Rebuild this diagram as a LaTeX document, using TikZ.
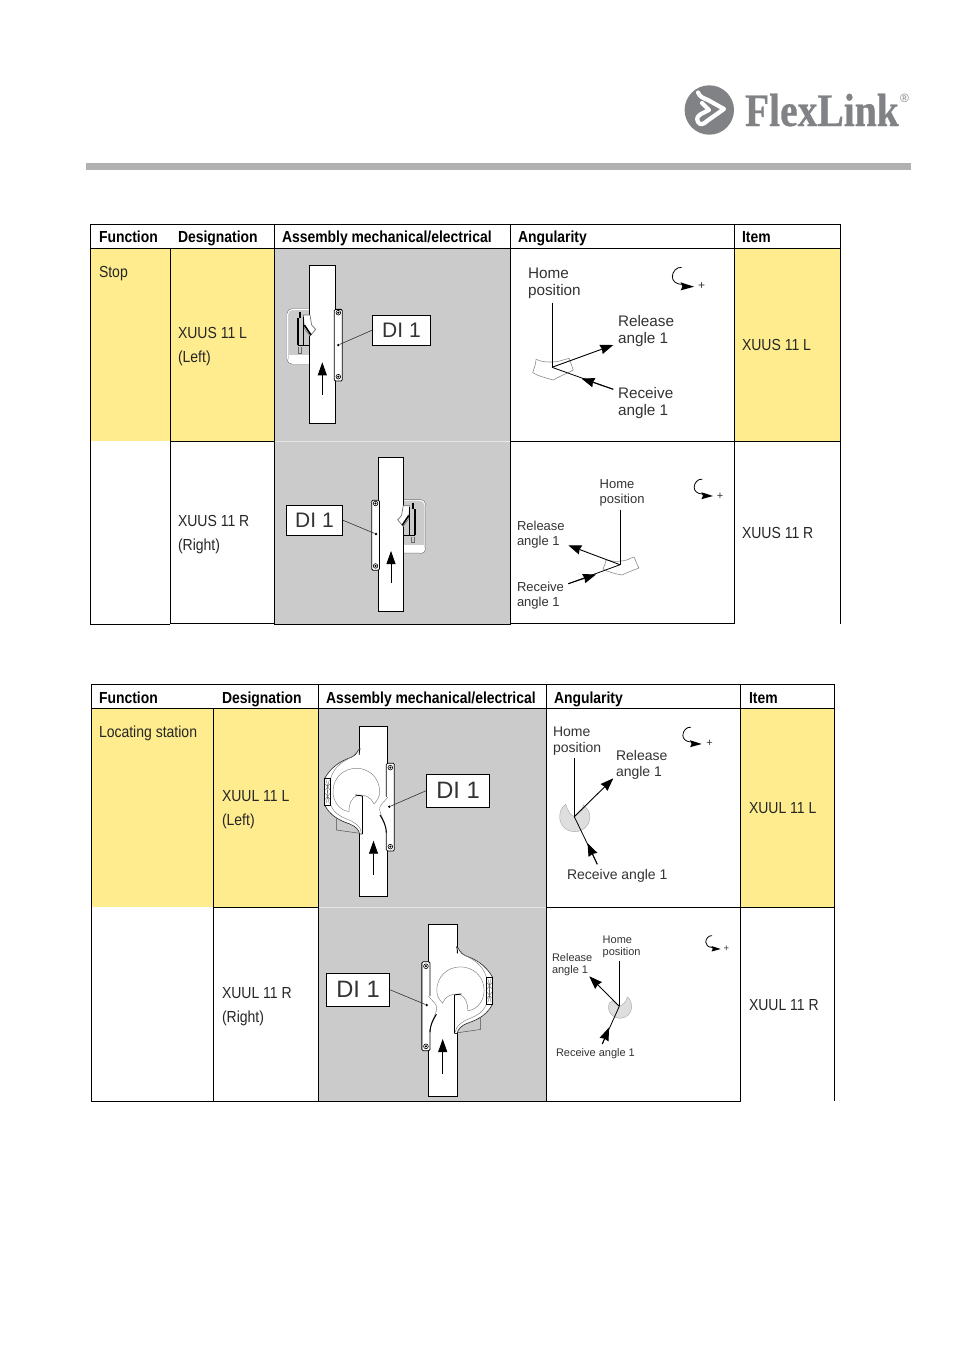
\documentclass[tikz,border=0pt]{standalone}
\usepackage{fontspec}
\usetikzlibrary{arrows.meta}
\setmainfont{Liberation Sans}
\newfontfamily\hv{Liberation Sans}
\newfontfamily\nreg[FakeStretch=.875]{Liberation Sans}
\newfontfamily\nbold[FakeStretch=.87]{Liberation Sans Bold}
\newfontfamily\logofont[FakeStretch=.85,FakeBold=.6]{Liberation Serif Bold}
\definecolor{yel}{HTML}{FEEC8E}
\definecolor{gbg}{HTML}{CBCBCB}
\definecolor{bar}{HTML}{B1B1B1}
\definecolor{logo}{HTML}{808285}
\definecolor{ink}{HTML}{333333}
\definecolor{disc}{HTML}{DEDEDE}
\tikzset{
  x=1pt,y=-1pt,
  rule/.style={draw=black,line width=1pt},
  txt/.style={anchor=base west,inner sep=0pt,outer sep=0pt,text=ink},
  head/.style={txt,text=black,font=\nbold\fontsize{16}{18}\selectfont},
  cell/.style={txt,text=black!85,font=\nreg\fontsize{16}{18}\selectfont},
  lblA/.style={txt,font=\hv\fontsize{15.3}{17.2}\selectfont},
  lblA2/.style={txt,font=\hv\fontsize{14}{16}\selectfont},
  lblB/.style={txt,font=\hv\fontsize{13}{15}\selectfont},
  lblC/.style={txt,font=\hv\fontsize{11}{12.3}\selectfont},
  plus/.style={txt,anchor=center},
  dibox/.style={draw=black,line width=.8pt,fill=white,inner sep=0pt,text=ink},
  dione/.style={dibox,minimum width=58.5pt,minimum height=30pt,font=\hv\fontsize{21}{24}\selectfont},
  ditwo/.style={dibox,minimum width=63.5pt,minimum height=33pt,font=\hv\fontsize{23.7}{28}\selectfont},
  leader/.style={draw=ink,line width=.6pt},
  pin/.style={circle,fill=black,inner sep=0pt,minimum size=2.6pt},
  axis/.style={draw=black,line width=.8pt},
  tipA/.style={-{Stealth[length=13pt,width=9.5pt,inset=1pt]},draw=black,line width=.9pt},
  seg/.style={draw=black!45,line width=.6pt},
  dsc/.style={draw=black!35,fill=disc,line width=.4pt},
  flow/.style={-{Stealth[length=13pt,width=9pt,inset=0pt]},draw=black,line width=.8pt},
  conv/.style={draw=black,line width=.9pt,fill=white},
  brk/.style={draw=black,line width=.8pt,fill=white,rounded corners=1.2pt},
  thinline/.style={draw=black!50,line width=.45pt},
  seam/.style={draw=black!10,line width=.8pt},
}
\newcommand\lines[1]{\begin{tabular}[t]{@{}l@{}}#1\end{tabular}}
\newcommand\screw[2]{\draw[black,line width=.6pt,fill=white] (#1,#2) circle[radius=7pt];\fill[black] (#1,#2) circle[radius=3.5pt];}
% stop unit: local units are 1/3 pixel
\newcommand\stopunit[4]{%
\begin{scope}[shift={(#1,#2)},xscale=#3,yscale=#4]\begin{scope}[shift={(-142.5,-47)}]
  \draw[black!60,line width=.4pt,rounded corners=5pt] (103,176)--(36,176)--(36,342)--(103,342);
  \draw[white,line width=.9pt,rounded corners=5pt] (103,178)--(38,178)--(38,340)--(103,340);
  \fill[white] (41,315) rectangle (103,338);
  \draw[black!60,line width=.35pt] (70,290)--(70,308)--(80,308)--(80,290);
  \draw[conv] (103,47) rectangle (182,520);
  \draw[brk] (178,178) rectangle (202,393);
  \screw{190}{188}\screw{190}{380}
  \draw[black!55,line width=.7pt,fill=white] (85,195)--(105,195)--(110,225)--(122,238)--(105,258)--(88,235)--cycle;
  \draw[black,line width=1.9pt] (68,205)--(68,285);
  \draw[black,line width=1.2pt] (75,185)--(75,205);
  \draw[black,line width=1.5pt] (85,200)--(85,285);
  \draw[black,line width=.8pt] (68,285)--(103,285);
  \draw[black,line width=1.6pt] (88,225)--(108,255);
\end{scope}\end{scope}}
% locating unit
\newcommand\locunit[4]{%
\begin{scope}[shift={(#1,#2)},xscale=#3,yscale=#4]\begin{scope}[shift={(-166.5,-49)}]
  \draw[black!70,line width=.45pt] (55,325)--(55,360)--(125,370);
  \draw[conv] (124,49) rectangle (209,559);
  \draw[brk] (205,160) rectangle (229,423);
  \screw{217}{173}\screw{217}{410}
  \fill[white] (195,262) rectangle (212,362);
  \draw[thinline] (209,262) .. controls (195,280) and (183,285) .. (185,300) .. controls (188,320) and (203,335) .. (205,365);
  \draw[black,line width=1pt] (186,315) .. controls (195,330) and (204,345) .. (205,368);
  \path[fill=white] (124,130) -- (126,115) .. controls (118,120) and (118,135) .. (100,142) .. controls (70,152) and (40,170) .. (20,205) -- (20,285) .. controls (35,315) and (60,330) .. (95,342) .. controls (115,350) and (122,360) .. (125,372) -- (133,372) -- (133,130) -- cycle;
  \draw[black!85,line width=.6pt] (126,115) .. controls (118,120) and (118,135) .. (100,142) .. controls (70,152) and (40,170) .. (20,205);
  \draw[black!85,line width=.6pt] (20,285) .. controls (35,315) and (60,330) .. (95,342) .. controls (115,350) and (122,360) .. (125,372) -- (133,372);
  \draw[black,line width=.8pt] (126,115) .. controls (125,125) and (122,130) .. (124,135);
  \draw[thinline] (114,128) .. controls (105,148) and (55,150) .. (38,205);
  \draw[thinline] (38,285) .. controls (50,315) and (75,322) .. (100,333) .. controls (115,342) and (128,350) .. (130,368);
  \draw[black,line width=.7pt,fill=white] (20,205) rectangle (38,285);
  \draw[black!60,line width=.35pt] (24,210) .. controls (32,235) and (32,255) .. (24,280) (34,210) .. controls (26,235) and (26,255) .. (34,280) (22,222) -- (36,240) (36,222) -- (22,240) (22,250) -- (36,268) (36,250) -- (22,268);
  \draw[thinline] (93,305) .. controls (60,300) and (45,270) .. (45,245) .. controls (45,200) and (80,175) .. (115,175) .. controls (155,175) and (185,205) .. (185,245) .. controls (185,260) and (178,272) .. (168,282) .. controls (160,262) and (140,252) .. (118,256) .. controls (100,262) and (92,285) .. (93,305);
  \draw[black,line width=1.1pt] (133,258)--(133,372);
  \draw[black,line width=.9pt] (112,255)--(133,258);
\end{scope}\end{scope}}
% rotation symbol, tip at #1,#2, scale #3
\newcommand\rotsym[3]{%
\begin{scope}[shift={(#1,#2)},scale=#3]
  \draw[black,line width=.8pt] (-37,-58) .. controls (-52,-60) and (-65,-45) .. (-65,-30) .. controls (-65,-18) and (-55,-8) .. (-38,-7);
  \fill[black] (0,0) -- (-40,-13) -- (-35,0) -- (-40,11) -- cycle;
\end{scope}}
\begin{document}
\begin{tikzpicture}
\useasboundingbox (0,0) rectangle (954,1350);
\fill[white] (0,0) rectangle (954,1350);
% ------ logo
\fill[logo] (709.3,110) circle[radius=24.7pt];
\draw[white,line width=4.2pt,line join=round,line cap=round] (698,92.5) .. controls (700,97) and (703,98) .. (708,100) -- (724,109) -- (707,121) .. controls (703,125) and (700,125) .. (698,122) .. controls (696,118) and (698,116) .. (701,114) -- (709,110) -- (702,103);
\node[txt,text=logo,font=\logofont\fontsize{46.5}{50}\selectfont] (logotext) at (745,126) {FlexLink};
\node[txt,text=logo,font=\hv\fontsize{12}{13}\selectfont,anchor=center] (logor) at (904.5,98.5) {®};
\fill[bar] (86,163) rectangle (911,170);
% ------ table 1 fills
\fill[yel] (91,249) rectangle (274,441);
\fill[yel] (735,249) rectangle (840,441);
\fill[gbg] (275,249) rectangle (510,624);
% table 1 rules
\draw[seam] (275,441.5) -- (510,441.5);
\draw[rule] (90.5,224.5) -- (840.5,224.5);
\draw[rule] (90.5,248.5) -- (840.5,248.5);
\draw[rule] (90.5,224) -- (90.5,625);
\draw[rule] (170.5,249) -- (170.5,624);
\draw[rule] (274.5,224) -- (274.5,624);
\draw[rule] (510.5,224) -- (510.5,624);
\draw[rule] (734.5,224) -- (734.5,624);
\draw[rule] (840.5,224) -- (840.5,624);
\draw[rule] (170,441.5) -- (274,441.5);
\draw[rule] (510,441.5) -- (840,441.5);
\draw[rule] (90,624.5) -- (170,624.5);
\draw[rule] (170,623.5) -- (274,623.5);
\draw[rule] (274,624.5) -- (511,624.5);
\draw[rule] (510,623.5) -- (735,623.5);
% ------ table 2 fills
\fill[yel] (92,709) rectangle (318,907);
\fill[yel] (741,709) rectangle (834,907);
\fill[gbg] (319,709) rectangle (546,1101);
% table 2 rules
\draw[seam] (319,907.5) -- (546,907.5);
\draw[rule] (91.5,684.5) -- (834.5,684.5);
\draw[rule] (91.5,708.5) -- (834.5,708.5);
\draw[rule] (91.5,684) -- (91.5,1102);
\draw[rule] (213.5,709) -- (213.5,1102);
\draw[rule] (318.5,684) -- (318.5,1102);
\draw[rule] (546.5,684) -- (546.5,1102);
\draw[rule] (740.5,684) -- (740.5,1102);
\draw[rule] (834.5,684) -- (834.5,1101);
\draw[rule] (213,907.5) -- (318,907.5);
\draw[rule] (546,907.5) -- (834,907.5);
\draw[rule] (91,1101.5) -- (741,1101.5);
% ------ table text
\node[head] (h1a) at (99,242) {Function};
\node[head] (h1b) at (178,242) {Designation};
\node[head] (h1c) at (282,242) {Assembly mechanical/electrical};
\node[head] (h1d) at (518,242) {Angularity};
\node[head] (h1e) at (742,242) {Item};
\node[cell] (c1a) at (99,277) {Stop};
\node[cell] (c1b) at (178,338) {XUUS 11 L};
\node[cell] (c1c) at (178,362) {(Left)};
\node[cell] (c1d) at (178,526) {XUUS 11 R};
\node[cell] (c1e) at (178,550) {(Right)};
\node[cell] (c1f) at (742,350) {XUUS 11 L};
\node[cell] (c1g) at (742,538) {XUUS 11 R};
\node[head] (h2a) at (99,703) {Function};
\node[head] (h2b) at (222,703) {Designation};
\node[head] (h2c) at (326,703) {Assembly mechanical/electrical};
\node[head] (h2d) at (554,703) {Angularity};
\node[head] (h2e) at (749,703) {Item};
\node[cell] (c2a) at (99,737) {Locating station};
\node[cell] (c2b) at (222,801) {XUUL 11 L};
\node[cell] (c2c) at (222,825) {(Left)};
\node[cell] (c2d) at (222,998) {XUUL 11 R};
\node[cell] (c2e) at (222,1022) {(Right)};
\node[cell] (c2f) at (749,813) {XUUL 11 L};
\node[cell] (c2g) at (749,1010) {XUUL 11 R};
% ------ assemblies
\stopunit{322.5}{265.7}{.3333}{.3333}
\coordinate (f1s) at (322.3,395); \coordinate (f1e) at (322.3,362.3);
\draw[flow] (f1s) -- (f1e);
\node[dione] (di1) at (401.5,330.3) {DI 1};
\node[pin] (p1) at (338.3,345) {};
\draw[leader] (di1.west) -- (p1);

\stopunit{391}{457.7}{-.325}{.325}
\coordinate (f2s) at (391,582.7); \coordinate (f2e) at (391,551);
\draw[flow] (f2s) -- (f2e);
\node[dione,minimum width=56.5pt] (di2) at (314.5,520.3) {DI 1};
\node[pin] (p2) at (376,534) {};
\draw[leader] (di2.east) -- (p2);

\locunit{373.5}{726.3}{.3333}{.3333}
\coordinate (f3s) at (373.5,875); \coordinate (f3e) at (373.5,840.7);
\draw[flow] (f3s) -- (f3e);
\node[ditwo] (di3) at (458,790.8) {DI 1};
\node[pin] (p3) at (389.3,806.7) {};
\draw[leader] (di3.west) -- (p3);

\locunit{443}{924.3}{-.338}{.338}
\coordinate (f4s) at (442.7,1073.7); \coordinate (f4e) at (442.7,1039);
\draw[flow] (f4s) -- (f4e);
\node[ditwo] (di4) at (358,989.8) {DI 1};
\node[pin] (p4) at (426.7,1005) {};
\draw[leader] (di4.east) -- (p4);
% ------ angle 1
\draw[seg] (536,359.3) .. controls (542,362) and (546,362) .. (552,362) .. controls (558,362) and (563,360) .. (569,358.3) .. controls (571,363) and (572,367) .. (573.3,370) .. controls (568,373) and (560,376) .. (553.3,380) .. controls (546,378) and (538,376) .. (532.7,372.7) .. controls (534,368) and (536,364) .. (536,359.3);
\coordinate (a1h) at (552,367.3); \coordinate (a1t) at (552,302.7);
\coordinate (a1r) at (613.3,345); \coordinate (a1c) at (613.3,389.3); \coordinate (a1m) at (581.5,378.5);
\draw[axis] (a1t) -- (a1h);
\draw[tipA] (a1h) -- (a1r);
\draw[axis] (a1c) -- (a1h);
\draw[tipA] (a1c) -- (a1m);
\rotsym{694}{286.7}{.3333}
\node[plus,font=\hv\fontsize{12}{13}\selectfont] (a1p) at (701.7,286) {+};
\node[lblA] (a1a) at (528,278) {\lines{Home\\position}};
\node[lblA] (a1b) at (618,326) {\lines{Release\\angle 1}};
\node[lblA] (a1d) at (618,398) {\lines{Receive\\angle 1}};
% ------ angle 2
\draw[seg] (606,560) .. controls (612,561) and (616,562) .. (621,561) .. controls (627,561) and (630,558) .. (634,557) .. controls (636,561) and (637,565) .. (639,568) .. controls (634,570) and (628,572) .. (622,575) .. controls (616,574) and (608,572) .. (603,569) .. controls (604,566) and (606,563) .. (606,560);
\coordinate (a2h) at (620,564.7); \coordinate (a2t) at (620,509.7);
\coordinate (a2r) at (568.3,545.3); \coordinate (a2c) at (568.3,583.7); \coordinate (a2m) at (596,574.5);
\draw[axis] (a2t) -- (a2h);
\draw[tipA] (a2h) -- (a2r);
\draw[axis] (a2c) -- (a2h);
\draw[tipA] (a2c) -- (a2m);
\rotsym{713}{496}{.29}
\node[plus,font=\hv\fontsize{11}{12}\selectfont] (a2p) at (720,496) {+};
\node[lblB] (a2a) at (599.7,488) {\lines{Home\\position}};
\node[lblB] (a2b) at (517,530) {\lines{Release\\angle 1}};
\node[lblB] (a2d) at (517,591) {\lines{Receive\\angle 1}};
% ------ angle 3
\draw[dsc] (583.3,805) .. controls (582,811) and (578,815) .. (574.3,816.7) .. controls (570,815) and (568,811) .. (565.7,804.3) .. controls (561,808) and (559.7,812) .. (559.7,817) .. controls (559.7,825) and (566,831.7) .. (574.7,831.7) .. controls (583,831.7) and (590,825) .. (590,816.7) .. controls (590,812) and (587,808) .. (583.3,805) -- cycle;
\coordinate (a3h) at (574.3,816.7); \coordinate (a3t) at (574.3,758.3);
\coordinate (a3r) at (613.3,778.3); \coordinate (a3c) at (597.3,864.3); \coordinate (a3m) at (587.5,843);
\draw[axis] (a3t) -- (a3h);
\draw[tipA] (a3h) -- (a3r);
\draw[axis] (a3c) -- (a3h);
\draw[tipA] (a3c) -- (a3m);
\rotsym{701.7}{744}{.29}
\node[plus,font=\hv\fontsize{11}{12}\selectfont] (a3p) at (709.5,743.7) {+};
\node[lblA2] (a3a) at (553,736.5) {\lines{Home\\position}};
\node[lblA2] (a3b) at (616,760) {\lines{Release\\angle 1}};
\node[lblA2] (a3d) at (567,879) {Receive angle 1};
% ------ angle 4
\draw[dsc] (612.5,1000.5) .. controls (614,1003) and (617,1005.5) .. (619.3,1006.3) .. controls (623,1005) and (626,1002) .. (627.5,997) .. controls (630,999) and (631.7,1003) .. (631.7,1007) .. controls (631.7,1013) and (626.7,1018.3) .. (620,1018.3) .. controls (613.5,1018.3) and (608.3,1013) .. (608.3,1007) .. controls (608.3,1004) and (610,1002) .. (612.5,1000.5) -- cycle;
\coordinate (a4h) at (619.3,1006.3); \coordinate (a4t) at (619.3,960.7);
\coordinate (a4r) at (589.3,976.3); \coordinate (a4c) at (602.3,1044); \coordinate (a4m) at (609,1027.5);
\draw[axis] (a4t) -- (a4h);
\draw[tipA] (a4h) -- (a4r);
\draw[axis] (a4c) -- (a4h);
\draw[tipA] (a4c) -- (a4m);
\rotsym{720.7}{949}{.23}
\node[plus,font=\hv\fontsize{9.5}{10}\selectfont] (a4p) at (726.3,948.3) {+};
\node[lblC] (a4a) at (602.7,943) {\lines{Home\\position}};
\node[lblC] (a4b) at (552,961.5) {\lines{Release\\angle 1}};
\node[lblC] (a4d) at (556,1056.5) {Receive angle 1};
\end{tikzpicture}
\end{document}
